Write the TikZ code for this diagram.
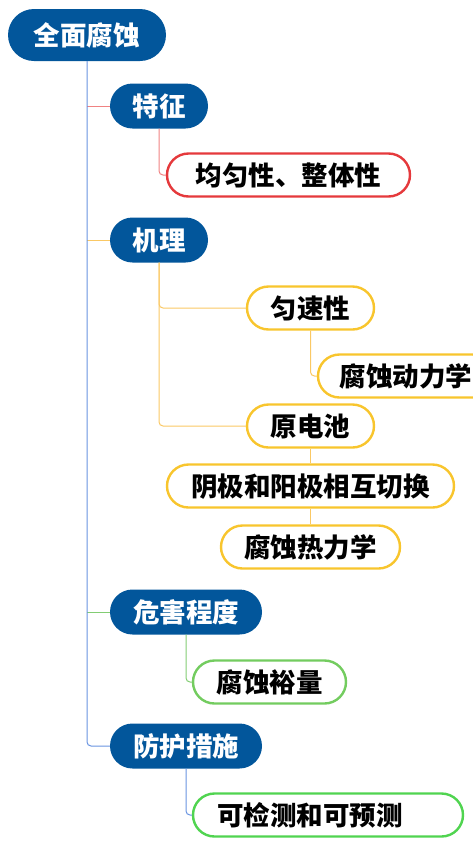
\documentclass[tikz,border=0pt]{standalone}
\usepackage{fontspec}
\newfontfamily\cjk{Noto Sans CJK SC}
\usepackage{xcolor}
\usetikzlibrary{positioning}

\definecolor{topicblue}{RGB}{2,86,155}
\definecolor{trunkblue}{RGB}{105,148,225}
\definecolor{redbd}{RGB}{229,57,60}
\definecolor{redln}{RGB}{240,130,130}
\definecolor{goldbd}{RGB}{248,197,45}
\definecolor{goldln}{RGB}{250,200,100}
\definecolor{greenbd}{RGB}{115,204,95}
\definecolor{greenln}{RGB}{130,205,115}
\definecolor{greenbdb}{RGB}{80,212,80}

\begin{document}
\begin{tikzpicture}[x=1pt, y=-1pt,
  every node/.style={font=\cjk\bfseries\fontsize{26.5}{26.5}\selectfont, text height=22pt, text depth=1.8pt},
  topic/.style={fill=topicblue, text=white, rounded corners=22.5pt, minimum height=45pt, inner sep=0pt},
  leaf/.style={draw=#1, line width=2.4pt, fill=white, rounded corners=21.5pt, minimum height=43pt, inner sep=0pt},
  link/.style={draw=#1, line width=1pt, rounded corners=4pt}]
  \useasboundingbox (0,0) rectangle (473,847);
  \clip (0,0) rectangle (473,847);
  % ---- root and main topics
  \node[topic, minimum width=158pt, minimum height=52pt, rounded corners=26pt] (root) at (87,35) {全面腐蚀};
  \node[topic, minimum width=98pt] (tz) at (159,106) {特征};
  \node[topic, minimum width=98pt] (jl) at (159,240) {机理};
  \node[topic, minimum width=152pt] (wh) at (186,612) {危害程度};
  \node[topic, minimum width=152pt] (fh) at (186,746) {防护措施};
  % ---- leaves
  \node[leaf=redbd, minimum width=243pt] (jyx) at (288.5,175) {均匀性、整体性};
  \node[leaf=goldbd, minimum width=127pt] (ysx) at (310.5,308) {匀速性};
  \node[leaf=goldbd, minimum width=176pt] (dlx) at (406,376) {腐蚀动力学};
  \node[leaf=goldbd, minimum width=127pt] (ydc) at (310.5,426) {原电池};
  \node[leaf=goldbd, minimum width=287pt] (yjqh) at (310.5,486) {阴极和阳极相互切换};
  \node[leaf=goldbd, minimum width=179pt] (rlx) at (310.5,547) {腐蚀热力学};
  \node[leaf=greenbd, minimum width=153pt] (fsyl) at (269.5,682) {腐蚀裕量};
  \node[leaf=greenbdb, minimum width=270pt, text width=222pt, align=left] (kjc) at (328,815) {可检测和可预测};
  % ---- connectors
  \draw[link=redln] (root.south |- tz) -- (tz);
  \draw[link=goldln] (root.south |- jl) -- (jl);
  \draw[link=greenln] (root.south |- wh) -- (wh);
  \draw[link=trunkblue] (root) |- (fh);
  \draw[link=redln] (tz) |- (jyx);
  \draw[link=goldln] (jl) |- (ysx);
  \draw[link=goldln] (jl) |- (ydc);
  \draw[link=goldln] (ysx) |- (dlx);
  \draw[link=goldln] (ydc) -- (yjqh);
  \draw[link=goldln] (yjqh) -- (rlx);
  \draw[link=greenln] (wh) |- (fsyl);
  \draw[link=trunkblue] (fh) |- (kjc);
\end{tikzpicture}
\end{document}
